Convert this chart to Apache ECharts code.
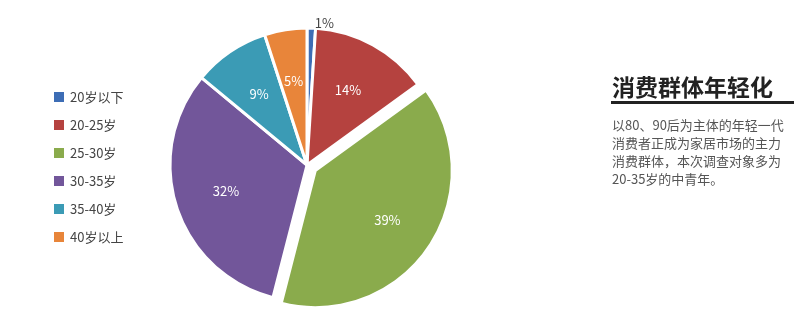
<!DOCTYPE html>
<html><head><meta charset="utf-8">
<script src="https://cdn.jsdelivr.net/npm/echarts@6/dist/echarts.min.js"></script>
<style>html,body{margin:0;padding:0;background:#fff}#c{width:800px;height:316px}</style>
</head><body><div id="c"></div>
<script>
const categories = ['20岁以下','20-25岁','25-30岁','30-35岁','35-40岁','40岁以上'];
const values = [1, 14, 39, 32, 9, 5];
const colors = ['#3d6db5','#b5423f','#8aab4c','#72569a','#3b9bb5','#e8853a'];
const titleText = '消费群体年轻化';
const bodyLines = ['以80、90后为主体的年轻一代','消费者正成为家居市场的主力','消费群体，本次调查对象多为','20-35岁的中青年。'];

const R = 137;
const center = [307, 165];
const pieData = categories.map((n, i) => ({
  name: n, value: values[i], selected: i === 2,
  itemStyle: {color: colors[i]},
  label: {show: i === 0}
}));
const labelData = categories.map((n, i) => ({
  name: n, value: values[i], selected: i === 2,
  label: {show: i !== 0}
}));
const chart = echarts.init(document.getElementById('c'), null, {renderer: 'canvas'});
chart.setOption({
  animation: false,
  color: colors,
  legend: {
    orient: 'vertical', left: 47, top: 85,
    icon: 'rect', itemWidth: 12, itemHeight: 12, itemGap: 14,
    textStyle: {fontSize: 13, color: '#444', fontFamily: 'Noto Sans CJK SC'},
    data: categories, selectedMode: false
  },
  graphic: [
    {type: 'text', left: 612, top: 76, style: {text: titleText, font: 'bold 23px "Noto Sans CJK SC"', fill: '#222'}},
    {type: 'rect', shape: {x: 611, y: 101, width: 183, height: 3}, style: {fill: '#222'}},
    {type: 'text', left: 612, top: 116, style: {text: bodyLines.join('\n'), font: '13px "Noto Sans CJK SC"', fill: '#555', lineHeight: 18}}
  ],
  series: [
    {
      type: 'pie', center: center, radius: [0, R], startAngle: 90, clockwise: true,
      selectedMode: 'single', selectedOffset: 10, legendHoverLink: false, avoidLabelOverlap: false,
      itemStyle: {borderColor: '#fff', borderWidth: 3},
      label: {position: 'outside', formatter: '{c}%', fontSize: 13, color: '#444', distance: 2, fontFamily: 'Noto Sans CJK SC'},
      labelLine: {show: false, length: 0, length2: 0},
      labelLayout: function (p) { return {align: 'center', verticalAlign: 'bottom', dx: 8, dy: 1}; },
      data: pieData
    },
    {
      type: 'pie', center: center, radius: [0, R * 1.2], startAngle: 90, clockwise: true,
      selectedMode: 'single', selectedOffset: 12, silent: true, avoidLabelOverlap: false,
      itemStyle: {color: 'rgba(0,0,0,0)', borderWidth: 0},
      label: {position: 'inside', formatter: '{c}%', fontSize: 13, color: '#fff', fontFamily: 'Noto Sans CJK SC'},
      labelLine: {show: false},
      data: labelData
    }
  ]
});
</script></body></html>
